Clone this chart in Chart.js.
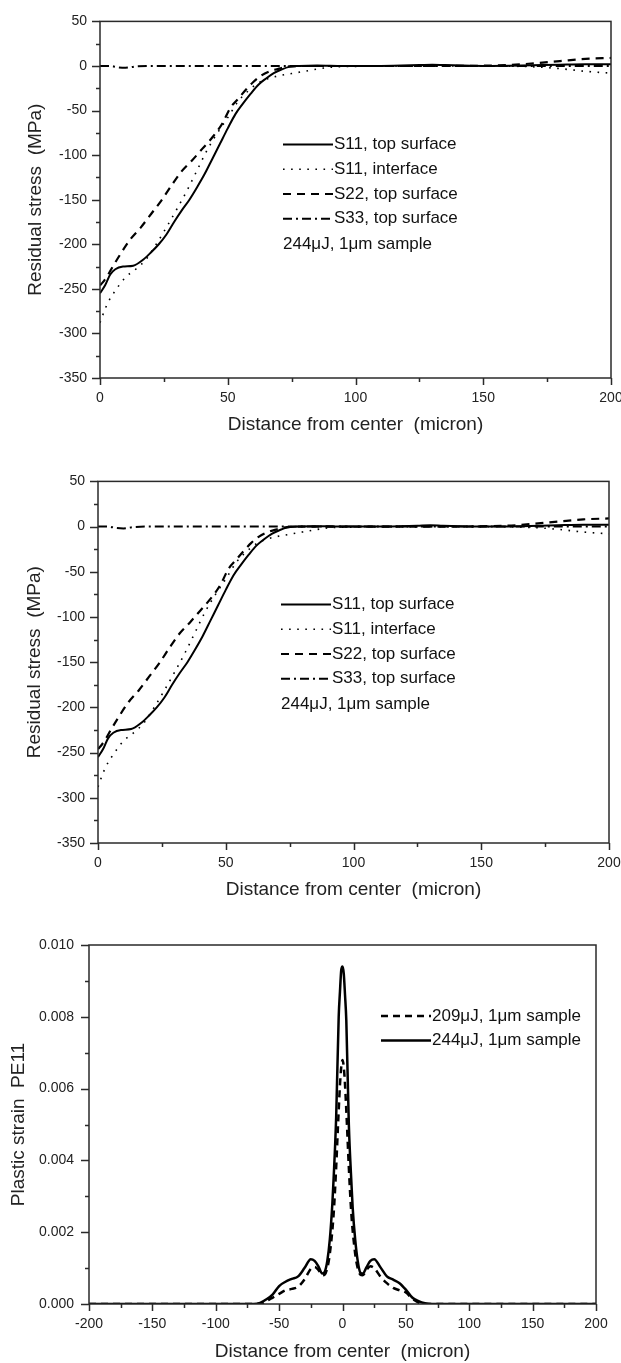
<!DOCTYPE html>
<html>
<head>
<meta charset="utf-8">
<script src="https://cdn.jsdelivr.net/npm/chart.js@4"></script>
<style>
  body { margin: 0; background: #fff; }
  canvas { position: absolute; left: 0; }
</style>
</head>
<body>
<canvas id="stressTop" width="621" height="460" style="top:0px"></canvas>
<canvas id="stressBottom" width="621" height="460" style="top:460px"></canvas>
<canvas id="strain" width="621" height="443" style="top:920px"></canvas>
<script>
// residual stress, 244uJ 1um sample (same data in both upper panels)
const s11TopX = [0, 2, 4, 6, 9, 13, 17, 20, 23, 26, 29, 32, 35, 38, 41, 44, 47, 50, 53, 56, 59, 62, 65, 68, 71, 74, 78, 85, 95, 110, 125, 130, 135, 150, 165, 180, 190, 200]
const s11TopY = [-255, -246, -234, -228, -225, -224, -217, -209, -200, -189, -175, -162, -150, -136, -121, -104, -87, -70, -54, -42, -31, -21, -14, -8, -4, -1, 0, 0.5, 0, 0, 1, 1.5, 1, 0, 0.5, 1.5, 2, 2]

const s11IntX = [0, 1, 3, 6, 10, 14, 18, 22, 26, 30, 34, 38, 42, 46, 50, 54, 58, 62, 66, 70, 75, 80, 85, 90, 100, 120, 150, 170, 180, 190, 200]
const s11IntY = [-288, -280, -266, -252, -237, -228, -217, -200, -181, -161, -140, -117, -94, -75, -58, -40, -28, -19, -14, -11, -8.5, -6, -3.5, -1.5, -0.5, 0, 0, -1, -3, -6, -8]

const s22TopX = [0, 1, 3, 5, 8, 12, 16, 20, 24, 28, 32, 36, 40, 44, 48, 51, 54, 57, 60, 63, 66, 70, 74, 80, 100, 130, 160, 170, 180, 190, 200]
const s22TopY = [-246, -243, -235, -225, -211, -194, -181, -166, -151, -134, -118, -106, -93, -80, -64, -47, -37, -27, -18, -11, -6.5, -3, -0.5, 0, 0, 0, 1, 3, 5.5, 8, 9]

const s33TopX = [0, 4, 7, 10, 14, 20, 50, 100, 150, 200]
const s33TopY = [0, 0, -1.5, -2, -0.5, 0, 0, 0, 0, 0]

const stressLabels = ['S11, top surface', 'S11, interface', 'S22, top surface', 'S33, top surface']
const stressNote = '244\u03bcJ, 1\u03bcm sample'

// plastic strain PE11
const pe209X = [-200, -65, -60, -55, -50, -45, -40, -35, -30, -25, -22, -19, -16, -14, -12, -10, -7, -5, -3.5, -2, -1, 0, 1, 2, 3.5, 5, 7, 10, 12, 14, 16, 19, 22, 25, 30, 35, 40, 45, 50, 55, 60, 65, 200]
const pe209Y = [0, 0, 0.00008, 0.00018, 0.00028, 0.00038, 0.00042, 0.00048, 0.00068, 0.00098, 0.00103, 0.00095, 0.0008, 0.00082, 0.001, 0.0014, 0.0025, 0.0038, 0.005, 0.0061, 0.0066, 0.0068, 0.0066, 0.0061, 0.005, 0.0038, 0.0025, 0.0014, 0.001, 0.00082, 0.0008, 0.00095, 0.00105, 0.001, 0.00076, 0.00058, 0.00045, 0.00038, 0.00032, 0.00015, 0.00004, 0, 0]

const pe244X = [-200, -70, -65, -60, -55, -50, -45, -40, -35, -30, -25, -22, -19, -16, -14, -12, -10, -8, -7, -5, -3, -2, -1, 0, 1, 2, 3, 5, 7, 8, 10, 12, 14, 16, 19, 22, 25, 30, 35, 40, 45, 50, 55, 60, 65, 70, 200]
const pe244Y = [0, 0, 0.00003, 0.00013, 0.00027, 0.0005, 0.00062, 0.0007, 0.00077, 0.001, 0.00125, 0.0012, 0.00105, 0.00085, 0.0009, 0.0012, 0.0018, 0.0028, 0.0035, 0.0052, 0.008, 0.0087, 0.0093, 0.0094, 0.0092, 0.0086, 0.0079, 0.005, 0.0034, 0.0027, 0.0018, 0.0012, 0.00088, 0.00085, 0.00103, 0.0012, 0.00125, 0.00102, 0.00077, 0.00068, 0.00058, 0.0004, 0.00018, 0.00008, 0.00002, 0, 0]

const strainLabels = ['209\u03bcJ, 1\u03bcm sample', '244\u03bcJ, 1\u03bcm sample']

const FONT = "'Liberation Sans', Arial, sans-serif"

function pts(xs, ys) {
    return xs.map((x, i) => ({ x: x, y: ys[i] }))
}

// box round the plot + outward major/minor ticks
const frame = {
    id: 'frame',
    afterDraw(chart) {
        const { ctx, chartArea: a, scales } = chart
        ctx.save()
        ctx.strokeStyle = '#2a2a2a'
        ctx.lineWidth = 1.5
        ctx.strokeRect(a.left, a.top, a.right - a.left, a.bottom - a.top)
        ctx.beginPath()
        scales.x.ticks.forEach(t => {
            const px = Math.round(scales.x.getPixelForValue(t.value)) + 0.5
            ctx.moveTo(px, a.bottom)
            ctx.lineTo(px, a.bottom + (t.label ? 7 : 4))
        })
        scales.y.ticks.forEach(t => {
            const py = Math.round(scales.y.getPixelForValue(t.value)) + 0.5
            ctx.moveTo(a.left, py)
            ctx.lineTo(a.left - (t.label ? 8 : 4), py)
        })
        ctx.stroke()
        ctx.restore()
    }
}

// legend drawn inside the plot like the original figure
const inlineLegend = {
    id: 'inlineLegend',
    afterDraw(chart, args, opts) {
        const { ctx, chartArea: a } = chart
        const x0 = a.left + opts.dx
        ctx.save()
        ctx.font = '17px ' + FONT
        ctx.fillStyle = '#111'
        ctx.textBaseline = 'middle'
        chart.data.datasets.forEach((ds, i) => {
            const y = a.top + opts.dy + i * opts.row
            ctx.strokeStyle = '#000'
            ctx.lineWidth = ds.borderWidth
            ctx.setLineDash(ds.borderDash || [])
            ctx.beginPath()
            ctx.moveTo(x0, y)
            ctx.lineTo(x0 + 50, y)
            ctx.stroke()
            ctx.fillText(ds.label, x0 + 51, y)
        })
        if (opts.note) {
            ctx.fillText(opts.note, x0, a.top + opts.dy + chart.data.datasets.length * opts.row + 1)
        }
        ctx.restore()
    }
}

function stressChart(id, area, xTitlePad, yTitlePad) {
    const H = 460
    return new Chart(document.getElementById(id).getContext('2d'), {
        type: 'line',
        data: {
            datasets: [
                { label: stressLabels[0], data: pts(s11TopX, s11TopY), borderColor: '#000', borderWidth: 2 },
                { label: stressLabels[1], data: pts(s11IntX, s11IntY), borderColor: '#000', borderWidth: 1.6, borderDash: [1.6, 6.5] },
                { label: stressLabels[2], data: pts(s22TopX, s22TopY), borderColor: '#000', borderWidth: 2.2, borderDash: [8, 6] },
                { label: stressLabels[3], data: pts(s33TopX, s33TopY), borderColor: '#000', borderWidth: 2, borderDash: [9, 4, 2, 4] }
            ]
        },
        options: {
            responsive: false,
            animation: false,
            elements: { point: { radius: 0 }, line: { cubicInterpolationMode: 'monotone' } },
            layout: { padding: { top: area.top, right: 621 - area.right, left: 0, bottom: 0 } },
            plugins: {
                legend: { display: false },
                tooltip: { enabled: false },
                inlineLegend: { dx: 183, dy: 123, row: 24.8, note: stressNote }
            },
            scales: {
                x: {
                    type: 'linear', min: 0, max: 200,
                    grid: { display: false, drawTicks: false },
                    border: { display: false },
                    ticks: {
                        stepSize: 25, autoSkip: false, maxRotation: 0, padding: 12, color: '#222',
                        font: { family: FONT, size: 14 },
                        callback: v => (v % 50 === 0 ? String(v) : '')
                    },
                    title: { display: true, text: 'Distance from center  (micron)', color: '#222', font: { family: FONT, size: 19 }, padding: { top: 0, bottom: xTitlePad } },
                    afterFit(s) { s.height = H - area.bottom; s.paddingLeft = 0; s.paddingRight = 0 }
                },
                y: {
                    min: -350, max: 50,
                    grid: { display: false, drawTicks: false },
                    border: { display: false },
                    ticks: {
                        stepSize: 25, autoSkip: false, padding: 13, color: '#222',
                        font: { family: FONT, size: 14 },
                        callback: v => (v % 50 === 0 ? String(v) : '')
                    },
                    title: { display: true, text: 'Residual stress  (MPa)', color: '#222', font: { family: FONT, size: 19 }, padding: { top: yTitlePad, bottom: 0 } },
                    afterFit(s) { s.width = area.left }
                }
            }
        },
        plugins: [frame, inlineLegend]
    })
}

stressChart('stressTop', { top: 15, bottom: 378, left: 100, right: 611 }, 24, 24)
stressChart('stressBottom', { top: 21, bottom: 383, left: 98, right: 609 }, 19, 23)

const strainArea = { top: 25, bottom: 384, left: 89, right: 596 }
const strainChart = new Chart(document.getElementById('strain').getContext('2d'), {
    type: 'line',
    data: {
        datasets: [
            { label: strainLabels[0], data: pts(pe209X, pe209Y), borderColor: '#000', borderWidth: 2.5, borderDash: [7, 5] },
            { label: strainLabels[1], data: pts(pe244X, pe244Y), borderColor: '#000', borderWidth: 2.5 }
        ]
    },
    options: {
        responsive: false,
        animation: false,
        elements: { point: { radius: 0 }, line: { cubicInterpolationMode: 'monotone' } },
        layout: { padding: { top: strainArea.top, right: 621 - strainArea.right, left: 0, bottom: 0 } },
        plugins: {
            legend: { display: false },
            tooltip: { enabled: false },
            inlineLegend: { dx: 292, dy: 71, row: 24.5 }
        },
        scales: {
            x: {
                type: 'linear', min: -200, max: 200,
                grid: { display: false, drawTicks: false },
                border: { display: false },
                ticks: {
                    stepSize: 25, autoSkip: false, maxRotation: 0, padding: 12, color: '#222',
                    font: { family: FONT, size: 14 },
                    callback: v => (v % 50 === 0 ? String(v) : '')
                },
                title: { display: true, text: 'Distance from center  (micron)', color: '#222', font: { family: FONT, size: 19 }, padding: { top: 0, bottom: 0 } },
                afterFit(s) { s.height = 443 - strainArea.bottom; s.paddingLeft = 0; s.paddingRight = 0 }
            },
            y: {
                min: 0, max: 0.01,
                grid: { display: false, drawTicks: false },
                border: { display: false },
                ticks: {
                    stepSize: 0.001, autoSkip: false, padding: 15, color: '#222',
                    font: { family: FONT, size: 14 },
                    callback: v => (Math.round(v * 1000) % 2 === 0 ? v.toFixed(3) : '')
                },
                title: { display: true, text: 'Plastic strain  PE11', color: '#222', font: { family: FONT, size: 19 }, padding: { top: 7, bottom: 0 } },
                afterFit(s) { s.width = strainArea.left }
            }
        }
    },
    plugins: [frame, inlineLegend]
})
</script>
</body>
</html>
